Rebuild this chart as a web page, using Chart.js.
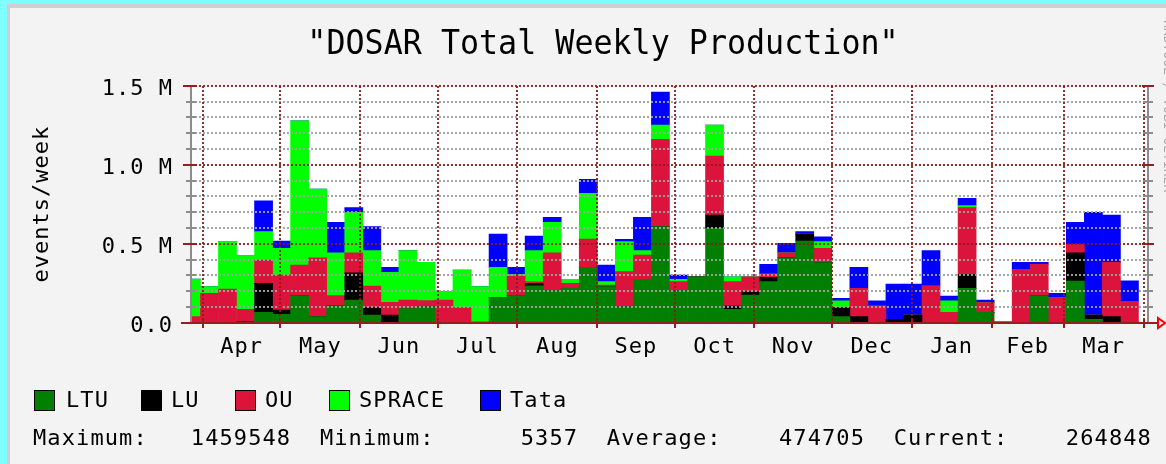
<!DOCTYPE html>
<html>
<head>
<meta charset="utf-8">
<script src="https://cdn.jsdelivr.net/npm/chart.js@4.4.1/dist/chart.umd.min.js"></script>
<style>
html,body{margin:0;padding:0;}
body{width:1166px;height:464px;overflow:hidden;position:relative;background:#f3f3f3;font-family:"DejaVu Sans Mono",monospace;}
#cyanTop{position:absolute;left:0;top:0;width:1166px;height:4px;background:#80ffff;}
#cyanLeft{position:absolute;left:0;top:0;width:7px;height:464px;background:#80ffff;}
#shadeTop{position:absolute;left:7px;top:4px;width:1159px;height:4px;background:#cfcfcf;}
#shadeLeft{position:absolute;left:7px;top:4px;width:3px;height:460px;background:#cfcfcf;}
canvas{position:absolute;left:0;top:0;}
.txt{position:absolute;white-space:pre;color:#000;line-height:1;}
#title{left:153px;top:26px;width:900px;text-align:center;font-size:33px;transform:scaleX(0.96);transform-origin:50% 0;}
.leg{font-size:22px;letter-spacing:1.1px;}
.sw{position:absolute;width:19px;height:19px;border:1px solid #000;}
#wm{position:absolute;left:1161px;top:20px;writing-mode:vertical-rl;font-size:13px;color:#a8a8a8;white-space:pre;}
</style>
</head>
<body>
<div id="cyanTop"></div><div id="cyanLeft"></div><div id="shadeTop"></div><div id="shadeLeft"></div>
<canvas id="c" width="1166" height="464"></canvas>
<div id="title" class="txt"></div>
<div id="legend"></div>
<div id="stats" class="txt leg"></div>
<div id="wm">RRDTOOL / TOBI OETIKER</div>
<script>
// ---- data ----
const chartTitle = '"DOSAR Total Weekly Production"';
const yAxisTitle = 'events/week';
// week index 0..52; weekStartDay = days since Apr 1 (weekly bins)
const weekStartDay = Array.from({length: 53}, (_, i) => -8 + 7 * i);
const monthLabels = ['Apr','May','Jun','Jul','Aug','Sep','Oct','Nov','Dec','Jan','Feb','Mar'];
const monthStartDay = [0,30,61,91,122,153,183,214,244,275,306,334,365];
const yTickValues = [0, 500000, 1000000, 1500000];
const yTickLabels = ['0.0', '0.5 M', '1.0 M', '1.5 M'];

const LTU = [0,0,0,0,65000,53000,171000,38000,108000,143000,49000,0,90000,100000,0,0,0,158000,169000,234000,203000,217000,350000,228000,100000,274000,608000,203000,291000,597000,84000,175000,260000,411000,517000,380000,38000,0,0,0,0,0,0,217000,65000,0,0,171000,0,264000,21000,0,0];
const LU = [0,0,0,6000,184000,27000,0,0,0,173000,46000,49000,0,0,0,0,0,0,0,15000,0,0,0,0,0,0,0,0,0,84000,21000,21000,27000,0,44000,0,57000,38000,0,21000,49000,0,0,89000,0,0,0,0,0,179000,28000,38000,0];
const OU = [38000,186000,213000,78000,148000,222000,194000,373000,63000,127000,137000,80000,53000,40000,143000,95000,5000,0,126000,10000,240000,32000,180000,10000,223000,154000,552000,57000,0,374000,155000,95000,21000,32000,0,90000,0,179000,105000,0,0,232000,65000,422000,62000,5357,338000,198000,158000,53000,0,344000,135000];
const SPRACE = [238000,42000,302000,340000,179000,168000,913000,435000,272000,255000,224000,190000,313000,242000,53000,238000,223000,192000,10000,197000,192000,25000,289000,22000,190000,28000,91000,14000,0,196000,31000,0,0,0,0,43000,44000,0,0,0,0,0,74000,13000,0,0,0,0,0,0,0,0,0];
const Tata = [0,0,0,0,196000,47000,0,0,192000,30000,152000,31000,0,0,0,0,0,211000,45000,93000,32000,0,88000,105000,14000,211000,208548,28000,0,0,0,0,61000,59000,15000,31000,15000,133000,34000,224000,196000,224000,30000,46000,16000,0,44000,13000,28000,139000,649000,299000,129848];

const seriesNames = ['LTU','LU','OU','SPRACE','Tata'];
const seriesColors = ['#007f00','#000000','#dc143c','#00ff00','#0000ff'];
const seriesValues = [LTU, LU, OU, SPRACE, Tata];

const statLabels = ['Maximum:','Minimum:','Average:','Current:'];
const statValues = [1459548, 5357, 474705, 264848];

// ---- text (HTML) ----
document.getElementById('title').textContent = chartTitle;
const legendX = [34, 141, 235, 329, 480];
const legendTextX = [66, 171, 265, 359, 510];
const legendEl = document.getElementById('legend');
seriesNames.forEach((n, i) => {
  const sw = document.createElement('div');
  sw.className = 'sw';
  sw.style.left = legendX[i] + 'px';
  sw.style.top = '390px';
  sw.style.background = seriesColors[i];
  legendEl.appendChild(sw);
  const t = document.createElement('div');
  t.className = 'txt leg';
  t.style.left = legendTextX[i] + 'px';
  t.style.top = '389px';
  t.textContent = n;
  legendEl.appendChild(t);
});
const statsEl = document.getElementById('stats');
statsEl.style.left = '33px';
statsEl.style.top = '427px';
statsEl.textContent = statLabels.map((l, i) => l + String(statValues[i]).padStart(10, ' ')).join('  ');

// ---- chart ----
const monthMid = monthLabels.map((_, i) => (monthStartDay[i] + monthStartDay[i + 1]) / 2);
const xMin = -4.66, xMax = 366.7;
const tickFont = {family: 'DejaVu Sans Mono', size: 22};

const rrdPlugin = {
  id: 'rrd',
  beforeLayout(chart) { chart.ctx.letterSpacing = '1px'; },
  beforeDraw(chart) {
    const {ctx, chartArea: a} = chart;
    ctx.letterSpacing = '1px';
    ctx.save();
    ctx.fillStyle = '#ffffff';
    ctx.fillRect(a.left, a.top, a.right - a.left, a.bottom - a.top);
    ctx.restore();
  },
  afterDatasetsDraw(chart) {
    const {ctx, chartArea: a, scales: {x, y}} = chart;
    const L = Math.round(a.left), R = Math.round(a.right), T = Math.round(a.top), B = Math.round(a.bottom);
    const line = (x1, y1, x2, y2) => { ctx.beginPath(); ctx.moveTo(x1, y1); ctx.lineTo(x2, y2); ctx.stroke(); };
    ctx.save();
    ctx.lineWidth = 2;
    ctx.setLineDash([2, 2]);
    // minor horizontal grid
    ctx.strokeStyle = 'rgba(160,160,160,0.95)';
    for (let v = 100000; v < 1500000; v += 100000) {
      if (v % 500000 === 0) continue;
      const py = Math.round(y.getPixelForValue(v));
      line(L, py, R, py);
    }
    // major horizontal grid
    ctx.strokeStyle = 'rgba(140,25,25,0.9)';
    for (const v of yTickValues) {
      if (v === 0) continue;
      const py = Math.round(y.getPixelForValue(v));
      line(L, py, R, py);
    }
    // vertical month lines
    for (const d of monthStartDay) {
      const px = Math.round(x.getPixelForValue(d));
      if (px < L || px > R) continue;
      line(px, T, px, B);
    }
    ctx.setLineDash([]);
    // y axes (left & right) gray
    ctx.strokeStyle = '#8c8c8c';
    line(L, T - 1, L, B + 1);
    line(R, T - 1, R, B + 1);
    for (let v = 0; v <= 1500000; v += 100000) {
      const py = Math.round(y.getPixelForValue(v));
      if (v % 500000 === 0) {
        ctx.strokeStyle = 'rgb(150,30,30)';
        line(L - 8, py, L + 6, py);
        line(R - 6, py, R + 6, py);
      } else {
        ctx.strokeStyle = '#8c8c8c';
        line(L - 5, py, L + 5, py);
        line(R - 5, py, R + 5, py);
      }
    }
    // x axis
    ctx.strokeStyle = 'rgb(150,30,30)';
    line(L - 10, B, 1158, B);
    for (const d of monthStartDay) {
      const px = Math.round(x.getPixelForValue(d));
      line(px, B - 4, px, B + 5);
    }
    // arrow
    ctx.strokeStyle = '#ff0000';
    ctx.lineWidth = 2;
    ctx.beginPath();
    ctx.moveTo(1158, B - 5); ctx.lineTo(1165, B); ctx.lineTo(1158, B + 5); ctx.closePath();
    ctx.stroke();
    ctx.restore();
  }
};

new Chart(document.getElementById('c'), {
  type: 'bar',
  data: {
    datasets: seriesNames.map((n, s) => ({
      label: n,
      data: seriesValues[s].map((v, i) => ({x: weekStartDay[i] + 3.5, y: v})),
      backgroundColor: seriesColors[s],
      borderWidth: 0,
      barPercentage: 1,
      categoryPercentage: 1,
      clip: 0
    }))
  },
  options: {
    responsive: false,
    animation: false,
    devicePixelRatio: 1,
    layout: {padding: {left: 0, right: 18, top: 85.7, bottom: 0}},
    plugins: {legend: {display: false}, tooltip: {enabled: false}, title: {display: false}},
    scales: {
      x: {
        type: 'linear', stacked: true, min: xMin, max: xMax, offset: false,
        grid: {display: false, drawTicks: false}, border: {display: false},
        afterBuildTicks: s => { s.ticks = monthMid.map(v => ({value: v})); },
        afterFit: s => { s.height = 141.3; },
        ticks: {autoSkip: false, maxRotation: 0, minRotation: 0, padding: 11.3, color: '#000', font: tickFont,
                callback: (v, i) => monthLabels[i]}
      },
      y: {
        type: 'linear', stacked: true, min: 0, max: 1500000,
        grid: {display: false, drawTicks: false}, border: {display: false},
        afterBuildTicks: s => { s.ticks = yTickValues.map(v => ({value: v})); },
        afterFit: s => { s.width = 191; },
        ticks: {padding: 18, labelOffset: 4, color: '#000', font: tickFont, callback: (v, i) => yTickLabels[i]},
        title: {display: true, text: yAxisTitle, color: '#000', font: tickFont, padding: {top: 29.2, bottom: 0}}
      }
    }
  },
  plugins: [rrdPlugin]
});
</script>
</body>
</html>
